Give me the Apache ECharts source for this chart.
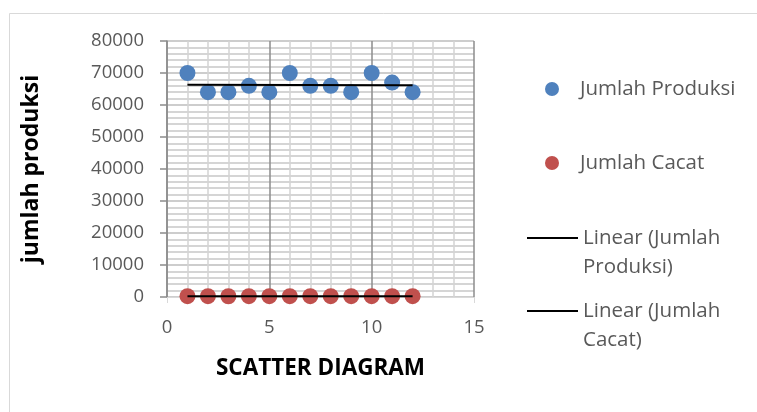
<!DOCTYPE html>
<html><head><meta charset="utf-8">
<script src="https://cdn.jsdelivr.net/npm/echarts@6/dist/echarts.min.js"></script>
<style>html,body{margin:0;padding:0;background:#fff}#c{width:757px;height:412px}</style>
</head><body><div id="c"></div>
<script>
var months = [1,2,3,4,5,6,7,8,9,10,11,12];
var produksi = [70000,64000,64000,66000,64000,70000,66000,66000,64000,70000,67000,64000];
var cacat = [250,260,240,250,255,245,250,260,250,245,255,250];
var xTicks = [0,5,10,15];
var yTicks = [0,10000,20000,30000,40000,50000,60000,70000,80000];

function pairs(xs, ys){ return xs.map(function(x,i){return [x, ys[i]];}); }
function trend(xs, ys){
  var n = xs.length, mx=0, my=0;
  for (var i=0;i<n;i++){mx+=xs[i];my+=ys[i];}
  mx/=n; my/=n;
  var sxy=0,sxx=0;
  for (i=0;i<n;i++){sxy+=(xs[i]-mx)*(ys[i]-my);sxx+=(xs[i]-mx)*(xs[i]-mx);}
  var b=sxy/sxx, a=my-b*mx;
  var x0=xs[0], x1=xs[n-1];
  return [[x0,a+b*x0],[x1,a+b*x1]];
}

var FONT = 'Open Sans';
var chart = echarts.init(document.getElementById('c'));
function legendText(){
  return {color:'#595959', fontSize:20.5, fontFamily:FONT, lineHeight:29};
}
chart.setOption({
  animation:false,
  backgroundColor:'#fff',
  graphic:[{type:'rect', shape:{x:9.5,y:13.5,width:900,height:600}, style:{fill:'none', stroke:'#d9d9d9', lineWidth:1}, silent:true, z:-1}],
  grid:{left:167, top:41, right:283, bottom:115, containLabel:false},
  xAxis:{
    type:'value', min:xTicks[0], max:xTicks[xTicks.length-1], interval:5,
    name:'SCATTER DIAGRAM', nameLocation:'middle', nameGap:60,
    nameTextStyle:{color:'#000', fontWeight:'bold', fontSize:22.5, fontFamily:FONT},
    axisLine:{show:true, onZero:false, lineStyle:{color:'#d9d9d9', width:1}},
    axisTick:{show:true, length:6, lineStyle:{color:'#d9d9d9'}},
    axisLabel:{color:'#595959', fontSize:18.5, fontFamily:FONT, margin:21},
    splitLine:{show:true, lineStyle:{color:'#8c8c8c', width:1.5}},
    minorTick:{show:false, splitNumber:5},
    minorSplitLine:{show:true, lineStyle:{color:'#d4d4d4', width:1.5}}
  },
  yAxis:{
    type:'value', min:yTicks[0], max:yTicks[yTicks.length-1], interval:10000,
    name:'jumlah produksi', nameLocation:'middle', nameGap:124, nameRotate:90,
    nameTextStyle:{color:'#000', fontWeight:'bold', fontSize:23, fontFamily:FONT},
    axisLine:{show:true, lineStyle:{color:'#8c8c8c', width:1.5}},
    axisTick:{show:true, length:7, lineStyle:{color:'#8c8c8c', width:1.5}},
    axisLabel:{color:'#595959', fontSize:18.5, fontFamily:FONT, margin:23, formatter:function(v){return String(v);}},
    splitLine:{show:true, lineStyle:{color:'#bdbdbd', width:1.5}},
    minorTick:{show:false, splitNumber:5},
    minorSplitLine:{show:true, lineStyle:{color:'#c8c8c8', width:1.5}}
  },
  legend:[
    {left:545, top:74.5, padding:0, icon:'circle', itemWidth:14, itemHeight:14, data:['Jumlah Produksi'],
      formatter:function(n){return '   ' + n;}, textStyle:legendText()},
    {left:545, top:148.5, padding:0, icon:'circle', itemWidth:14, itemHeight:14, data:['Jumlah Cacat'],
      formatter:function(n){return '   ' + n;}, textStyle:legendText()},
    {left:527, top:194.5, padding:0, icon:'rect', itemWidth:51, itemHeight:2, data:[{name:'Linear (Jumlah Produksi)', itemStyle:{color:'#000'}}],
      formatter:function(){return '\nLinear (Jumlah\nProduksi)';}, textStyle:legendText()},
    {left:527, top:267.5, padding:0, icon:'rect', itemWidth:51, itemHeight:2, data:[{name:'Linear (Jumlah Cacat)', itemStyle:{color:'#000'}}],
      formatter:function(){return '\nLinear (Jumlah\nCacat)';}, textStyle:legendText()}
  ],
  series:[
    {name:'Jumlah Produksi', type:'scatter', data:pairs(months, produksi), symbolSize:16, itemStyle:{color:'#4f81bd', opacity:1}, z:3},
    {name:'Jumlah Cacat', type:'scatter', data:pairs(months, cacat), symbolSize:16, itemStyle:{color:'#c0504d', opacity:1}, z:3},
    {name:'Linear (Jumlah Produksi)', type:'line', data:trend(months, produksi), showSymbol:false, symbol:'none', lineStyle:{color:'#000', width:2}, itemStyle:{color:'#000'}, z:4},
    {name:'Linear (Jumlah Cacat)', type:'line', data:trend(months, cacat), showSymbol:false, symbol:'none', lineStyle:{color:'#000', width:2}, itemStyle:{color:'#000'}, z:4}
  ]
});
</script></body></html>
